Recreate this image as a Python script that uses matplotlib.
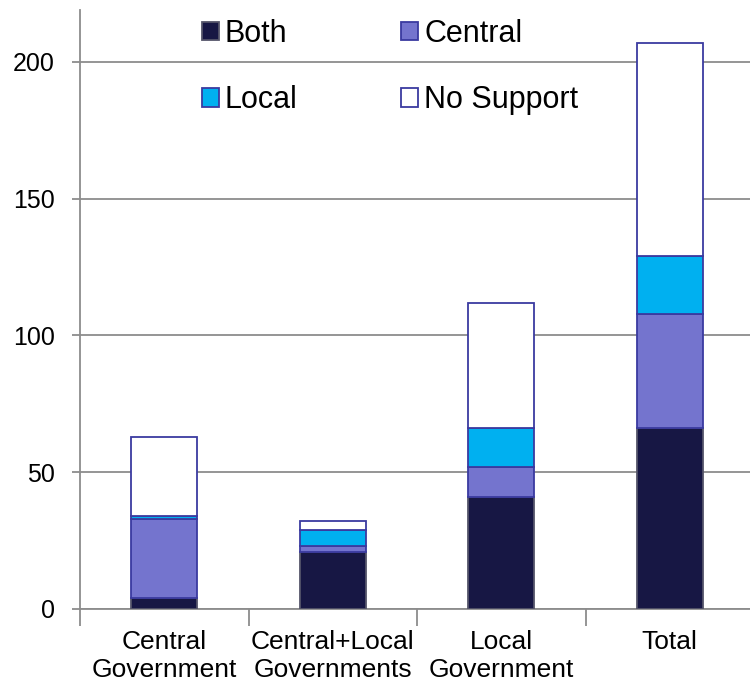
import numpy as np
import matplotlib.pyplot as plt

plt.rcParams['font.family'] = ['Liberation Sans', 'DejaVu Sans']

categories = ["Central\nGovernment", "Central+Local\nGovernments", "Local\nGovernment", "Total"]
both = [4, 21, 41, 66]
central = [29, 2, 11, 42]
local = [1, 6, 14, 21]
no_support = [29, 3, 46, 78]

series = [("Both", both, "#171744", "#55556a"),
          ("Central", central, "#7474ce", "#3a3aa0"),
          ("Local", local, "#00b0f0", "#3a3aa0"),
          ("No Support", no_support, "#ffffff", "#3a3aa0")]

fig = plt.figure(figsize=(7.5, 6.84), dpi=100)
ax = fig.add_axes([80/750, 75/684, 674/750, 599/684])

x = np.arange(len(categories))
bottom = np.zeros(len(categories))
handles = {}
for name, vals, fc, ec in series:
    b = ax.bar(x, vals, width=0.39, bottom=bottom, color=fc, edgecolor=ec,
               linewidth=1.3, label=name, zorder=3)
    handles[name] = b
    bottom += np.array(vals)

ax.set_xlim(-0.5, 3.5)
ax.set_ylim(0, 219)
ax.set_yticks([0, 50, 100, 150, 200])
ax.yaxis.grid(True, color="#8c8c8c", linewidth=1.3, zorder=0)
ax.set_axisbelow(True)

ax.set_xticks(x)
ax.set_xticklabels(categories, fontsize=19, linespacing=1.2)
ax.tick_params(axis='x', length=0, pad=15)
ax.set_xticks([-0.5, 0.5, 1.5, 2.5], minor=True)
ax.tick_params(axis='x', which='minor', length=12, width=1.3, color="#8c8c8c")
ax.tick_params(axis='y', labelsize=18, length=6, width=1.3, color="#8c8c8c", pad=12)

for s in ["top", "right"]:
    ax.spines[s].set_visible(False)
for s in ["left", "bottom"]:
    ax.spines[s].set_color("#8c8c8c")
    ax.spines[s].set_linewidth(1.3)

order = ["Both", "Local", "Central", "No Support"]
ax.legend([handles[n] for n in order], order, ncol=2, frameon=False,
          loc="center", bbox_to_anchor=(0.460, 0.905), fontsize=22,
          handlelength=0.55, handleheight=0.55, handletextpad=0.2,
          columnspacing=3.4, labelspacing=1.2, borderpad=0)

fig.savefig("out.png", dpi=100)
